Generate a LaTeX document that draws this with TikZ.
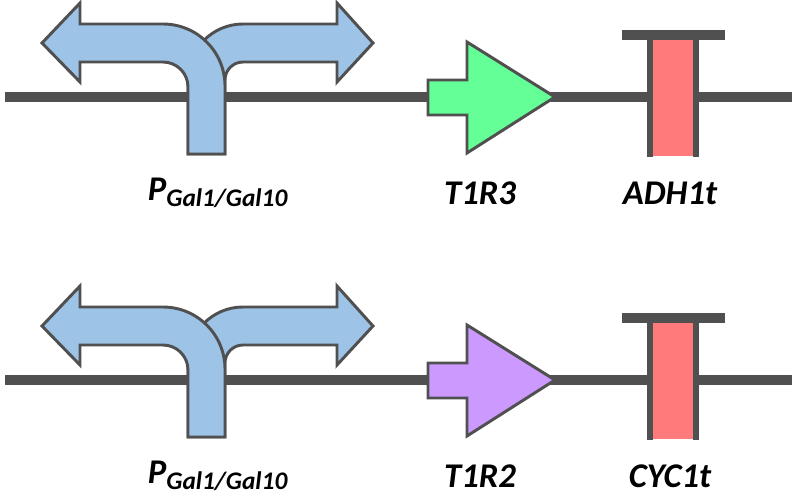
\documentclass[tikz,border=0pt]{standalone}
\usepackage{fontspec}
\setmainfont{Carlito}
\definecolor{mygray}{RGB}{80,80,80}
\definecolor{myblue}{RGB}{157,195,230}
\definecolor{mygreen}{RGB}{100,255,150}
\definecolor{mypurple}{RGB}{204,153,255}
\definecolor{myred}{RGB}{255,122,122}

\begin{document}
\begin{tikzpicture}[x=0.75pt, y=-0.75pt, line width=2.2pt, line join=miter,
    part/.style={draw=mygray},
    label/.style={font=\fontsize{26}{30}\selectfont\bfseries\itshape, anchor=center}]
    \useasboundingbox (0,0) rectangle (803,501);
    \foreach \dy/\gcol/\gene/\term in {0/mygreen/T1R3/ADH1t, 283/mypurple/T1R2/CYC1t} {
    \begin{scope}[yshift=-\dy*0.75pt]
        % backbone
        \coordinate (bbL) at (5,97);
        \coordinate (bbR) at (792,97);
        \draw[mygray, line width=7.5pt] (bbL) -- (bbR);
        % bidirectional promoter
        \draw[part, fill=myblue] (225,154) -- (225,80) arc (180:270:18) -- (337,62) -- (337,82)
            -- (373,43) -- (337,3) -- (337,24) -- (243,24) arc (270:180:55) -- (188,154) -- cycle;
        \draw[part, fill=myblue] (188,154) -- (188,87) arc (0:-90:25) -- (80,62) -- (80,82)
            -- (42,43) -- (80,3) -- (80,24) -- (163,24) arc (-90:0:62) -- (225,154) -- cycle;
        % coding sequence
        \draw[part, fill=\gcol] (428,80) -- (467,80) -- (467,42) -- (555,97) -- (467,153)
            -- (467,115) -- (428,115) -- cycle;
        % terminator
        \fill[myred] (650,37) rectangle (696,156);
        \draw[mygray, line width=4.5pt] (650,37) -- (650,157) (696,37) -- (696,157);
        \draw[mygray, line width=7pt] (622,35) -- (725,35);
        % labels
        \node[label] (prom) at (218,193) {P\textsubscript{\fontsize{19}{22}\selectfont Gal1/Gal10}};
        \node[label] (cds) at (480,193) {\gene};
        \node[label] (term) at (670,193) {\term};
    \end{scope}
    }
\end{tikzpicture}
\end{document}
